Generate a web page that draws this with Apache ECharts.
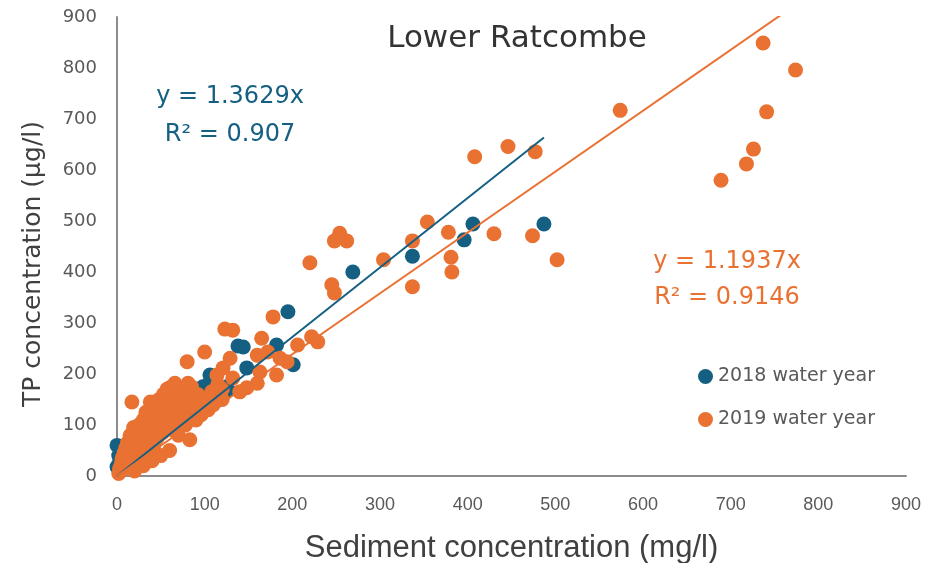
<!DOCTYPE html>
<html>
<head>
<meta charset="utf-8">
<script src="https://cdn.jsdelivr.net/npm/echarts@6/dist/echarts.min.js"></script>
<style>html,body{margin:0;padding:0;background:#fff}#c{width:936px;height:563px}</style>
</head>
<body>
<div id="c"></div>
<script>
const chartTitle = "Lower Ratcombe";
const xAxisName = "Sediment concentration (mg/l)";
const yAxisName = "TP concentration (µg/l)";
const seriesNames = ["2018 water year", "2019 water year"];
const xTicks = [0, 100, 200, 300, 400, 500, 600, 700, 800, 900];
const yTicks = [0, 100, 200, 300, 400, 500, 600, 700, 800, 900];

const slope2018 = 1.3629, r2_2018 = 0.907;
const slope2019 = 1.1937, r2_2019 = 0.9146;

const data2018 = [
  [0,60],[0,18],[2,40],[3,28],[5,50],[8,30],[15,35],[25,50],[40,70],[60,95],[70,120],
  [75,130],[85,150],[90,165],[98,175],[103,178],[106,198],[125,175],[127,169],[138,255],[144,253],
  [148,212],[182,257],[195,322],[201,218],[269,400],[337,431],[396,463],[406,494],[487,494]
];

const data2019 = [
  [2,5],[3,15],[5,10],[5,25],[6,35],[8,20],[8,45],[10,30],[10,55],[12,40],[12,65],[14,25],
  [15,50],[15,80],[17,60],[18,35],[19,95],[20,70],[21,45],[22,85],[24,55],[25,100],[26,75],
  [27,30],[28,90],[30,60],[30,110],[32,80],[33,125],[34,95],[35,45],[36,70],[37,115],[38,100],
  [40,85],[40,130],[42,60],[43,110],[44,140],[45,95],[46,75],[47,120],[48,150],[50,105],[50,130],
  [52,85],[53,160],[54,115],[55,140],[56,95],[57,170],[58,125],[60,110],[60,150],[62,135],[63,165],
  [64,90],[65,120],[66,145],[67,175],[68,105],[70,130],[70,160],[72,140],[73,115],[74,170],[75,150],
  [76,125],[78,165],[78,100],[80,140],[82,155],[84,120],[85,175],[86,135],[88,150],[90,125],[92,160],
  [95,140],[96,120],[100,150],[104,130],[108,165],[112,145],[115,180],[118,155],[120,170],
  [20,10],[30,20],[40,30],[50,40],[60,50],[70,80],[90,110],[110,140],[120,150],[140,165],
  [17,145],[38,145],[66,182],[60,173],[83,71],[81,182],[160,182],[148,173],[114,198],[132,192],
  [182,198],[163,204],[121,212],[194,224],[186,231],[129,231],[160,237],[172,243],[80,224],[100,243],
  [206,257],[229,263],[222,273],[165,270],[132,286],[123,288],[178,312],[248,359],[245,375],[220,418],
  [262,461],[248,461],[254,476],[304,424],[337,371],[337,461],[354,498],[382,400],[381,429],[378,478],
  [430,475],[502,424],[474,471],[477,636],[446,646],[408,626],[574,717],[689,580],[718,612],[726,641],
  [741,714],[774,796],[737,849]
];

const maxX2018 = Math.max(...data2018.map(d => d[0]));
const maxX2019 = Math.max(...data2019.map(d => d[0]));
const trend2018 = [[0, 0], [maxX2018, slope2018 * maxX2018]];
const trend2019 = [[0, 0], [maxX2019, slope2019 * maxX2019]];

const C_BLUE = '#156082';
const C_ORANGE = '#E97132';
const FONT = 'DejaVu Sans, Open Sans, sans-serif';
const NARROW = 'Liberation Sans Narrow, Liberation Sans, sans-serif';

const chart = echarts.init(document.getElementById('c'), null, {renderer: 'canvas'});
chart.setOption({
  animation: false,
  backgroundColor: '#ffffff',
  grid: {left: 117, right: 30, top: 17, bottom: 87, containLabel: false, outerBoundsMode: 'none'},
  xAxis: {
    type: 'value', min: 0, max: 900, interval: 100,
    name: xAxisName, nameLocation: 'middle', nameGap: 57,
    nameTextStyle: {fontFamily: NARROW, fontSize: 31, color: '#404040'},
    axisLine: {show: true, onZero: false, lineStyle: {color: '#8c8c8c', width: 2}},
    axisTick: {show: false},
    splitLine: {show: false},
    axisLabel: {fontFamily: NARROW, fontSize: 18, color: '#595959', margin: 20,
      formatter: v => xTicks.includes(v) ? String(v) : ''}
  },
  yAxis: {
    type: 'value', min: 0, max: 900, interval: 100,
    axisLine: {show: true, onZero: false, lineStyle: {color: '#8c8c8c', width: 2}},
    axisTick: {show: false},
    splitLine: {show: false},
    axisLabel: {fontFamily: FONT, fontSize: 18, color: '#595959', margin: 20,
      formatter: v => yTicks.includes(v) ? String(v) : ''}
  },
  legend: {
    data: seriesNames, orient: 'vertical', left: 693, top: 362,
    icon: 'circle', itemWidth: 15, itemHeight: 15, itemGap: 24,
    textStyle: {fontFamily: FONT, fontSize: 19, color: '#595959'}
  },
  series: [
    {name: seriesNames[0], type: 'scatter', data: data2018, symbolSize: 15,
      itemStyle: {color: C_BLUE, opacity: 1}},
    {name: seriesNames[1], type: 'scatter', data: data2019, symbolSize: 15,
      itemStyle: {color: C_ORANGE, opacity: 1}},
    {name: 'trend2018', type: 'line', data: trend2018, symbol: 'none', clip: true,
      lineStyle: {color: C_BLUE, width: 2}, z: 5},
    {name: 'trend2019', type: 'line', data: trend2019, symbol: 'none', clip: true,
      lineStyle: {color: C_ORANGE, width: 2}, z: 5}
  ],
  graphic: [
    {type: 'text', x: 517, y: 39, style: {text: chartTitle, font: '31px ' + FONT, fill: '#333333', textAlign: 'center', textVerticalAlign: 'middle'}},
    {type: 'text', x: 33, y: 264, rotation: Math.PI / 2, style: {text: yAxisName, font: '25px ' + FONT, fill: '#404040', textAlign: 'center', textVerticalAlign: 'middle'}},
    {type: 'text', x: 230, y: 97, style: {text: 'y = ' + slope2018 + 'x', font: '24px ' + FONT, fill: C_BLUE, textAlign: 'center', textVerticalAlign: 'middle'}},
    {type: 'text', x: 230, y: 135, style: {text: 'R² = ' + r2_2018, font: '24px ' + FONT, fill: C_BLUE, textAlign: 'center', textVerticalAlign: 'middle'}},
    {type: 'text', x: 727, y: 262, style: {text: 'y = ' + slope2019 + 'x', font: '24px ' + FONT, fill: C_ORANGE, textAlign: 'center', textVerticalAlign: 'middle'}},
    {type: 'text', x: 727, y: 298, style: {text: 'R² = ' + r2_2019, font: '24px ' + FONT, fill: C_ORANGE, textAlign: 'center', textVerticalAlign: 'middle'}}
  ]
});
</script>
</body>
</html>
